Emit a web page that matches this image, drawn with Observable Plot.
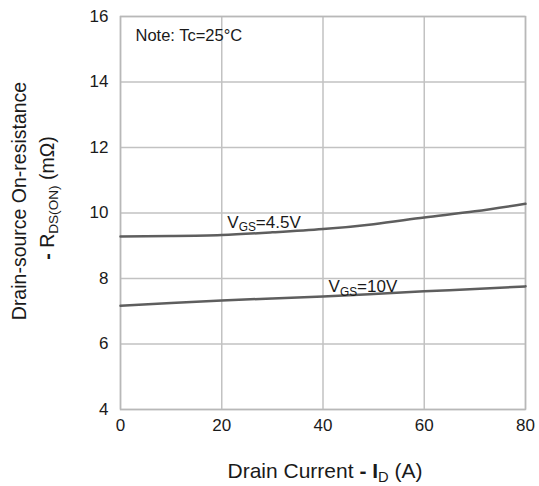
<!DOCTYPE html>
<html>
<head>
<meta charset="utf-8">
<script src="https://cdn.jsdelivr.net/npm/d3@7"></script>
<script src="https://cdn.jsdelivr.net/npm/@observablehq/plot@0.6"></script>
<style>
  html, body { margin: 0; padding: 0; background: #fff; }
  #chart svg { font-family: "Liberation Sans", Arial, sans-serif; }
</style>
</head>
<body>
<div id="chart"></div>
<script>
// ---- data ----
const current = [0, 10, 20, 30, 40, 50, 60, 70, 80];               // I_D (A)
const rdsVgs45 = [9.28, 9.30, 9.33, 9.41, 9.51, 9.66, 9.86, 10.05, 10.28]; // mΩ at VGS=4.5V
const rdsVgs10 = [7.17, 7.25, 7.33, 7.39, 7.45, 7.53, 7.61, 7.68, 7.76];   // mΩ at VGS=10V
const seriesNames = ["V_{GS}=4.5V", "V_{GS}=10V"];
const xTicks = [0, 20, 40, 60, 80];
const yTicks = [4, 6, 8, 10, 12, 14, 16];
const labelCurrent = [21.1, 41.1];   // annotation anchors, data units
const labelRds = [9.55, 7.58];
const noteText = "Note: Tc=25°C";
const noteAt = {x: 2.96, y: 15.24};
const xTitle = "Drain Current *-* *I*_{D} (A)";
const yTitle1 = "Drain-source On-resistance";
const yTitle2 = "*-* R_{DS(ON)} (mΩ)";

const rows = [];
current.forEach((c, i) => {
  rows.push({I: c, R: rdsVgs45[i], s: seriesNames[0]});
  rows.push({I: c, R: rdsVgs10[i], s: seriesNames[1]});
});
const labels = seriesNames.map((s, i) => ({I: labelCurrent[i], R: labelRds[i], t: s}));

const gridColor = "#c2c2c2";
const chart = Plot.plot({
  width: 539,
  height: 486,
  marginLeft: 120,
  marginRight: 14,
  marginTop: 16,
  marginBottom: 77,
  style: {background: "#fff", color: "#1a1a1a", fontFamily: "'Liberation Sans', Arial, sans-serif"},
  x: {domain: [0, 80]},
  y: {domain: [4, 16]},
  marks: [
    Plot.gridX(xTicks, {stroke: gridColor, strokeOpacity: 1, strokeWidth: 1.5}),
    Plot.gridY(yTicks, {stroke: gridColor, strokeOpacity: 1, strokeWidth: 1.5}),
    Plot.frame({stroke: "#b8b8b8", strokeWidth: 1.5}),
    Plot.axisX(xTicks, {tickSize: 0, tickPadding: 9, fontSize: 17, label: null}),
    Plot.axisY(yTicks, {tickSize: 0, tickPadding: 12, fontSize: 17, label: null}),
    Plot.line(rows, {x: "I", y: "R", z: "s", stroke: "#5e5e5e", strokeWidth: 2.5, curve: "natural"}),
    Plot.text(labels, {x: "I", y: "R", text: "t", textAnchor: "start", lineAnchor: "bottom", fontSize: 17, fill: "#1a1a1a"}),
    Plot.text([noteText], {x: () => noteAt.x, y: () => noteAt.y, text: d => d, textAnchor: "start", lineAnchor: "bottom", fontSize: 16.5, fill: "#1a1a1a"}),
    Plot.text([xTitle], {frameAnchor: "bottom", text: d => d, textAnchor: "middle", lineAnchor: "bottom", dy: 68, dx: 2, fontSize: 21, fill: "#1a1a1a"}),
    Plot.text([yTitle1], {frameAnchor: "left", text: d => d, rotate: -90, textAnchor: "middle", lineAnchor: "middle", dx: -101, dy: -12, fontSize: 19.5, fill: "#1a1a1a"}),
    Plot.text([yTitle2], {frameAnchor: "left", text: d => d, rotate: -90, textAnchor: "middle", lineAnchor: "middle", dx: -73, dy: -15, fontSize: 19.5, fill: "#1a1a1a"})
  ]
});
document.getElementById("chart").appendChild(chart);

// rich text: _{..} subscript, *..* bold
d3.select(chart).selectAll("text").each(function() {
  const el = this;
  const raw = el.textContent;
  if (!/_\{|\*/.test(raw)) return;
  const fs = parseFloat(getComputedStyle(el).fontSize) || 16;
  el.textContent = "";
  const re = /_\{([^}]*)\}|\*([^*]*)\*|([^_*]+)/g;
  let m, shifted = false;
  while ((m = re.exec(raw))) {
    const t = document.createElementNS("http://www.w3.org/2000/svg", "tspan");
    if (m[1] !== undefined) {
      t.textContent = m[1];
      t.setAttribute("font-size", (fs * 0.7).toFixed(1));
      if (!shifted) { t.setAttribute("dy", (fs * 0.22).toFixed(1)); shifted = true; }
    } else {
      t.textContent = m[2] !== undefined ? m[2] : m[3];
      if (m[2] !== undefined) t.setAttribute("font-weight", "bold");
      if (shifted) { t.setAttribute("dy", (-fs * 0.22).toFixed(1)); shifted = false; }
    }
    el.appendChild(t);
  }
});
</script>
</body>
</html>
